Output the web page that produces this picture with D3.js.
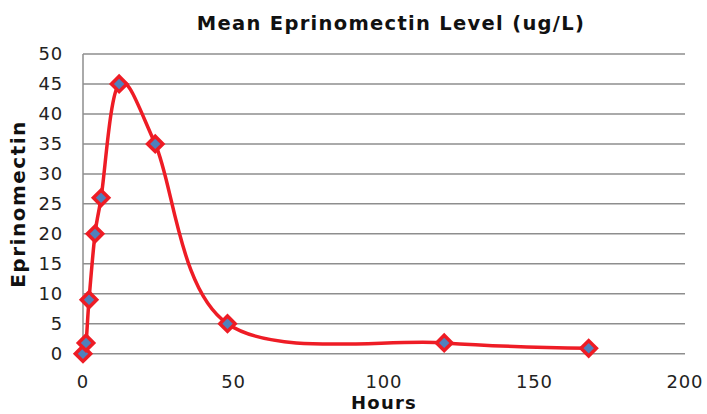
<!DOCTYPE html>
<html><head><meta charset="utf-8">
<script src="https://cdn.jsdelivr.net/npm/d3@7"></script>
<style>body{margin:0;background:#fff}svg{display:block}</style>
</head><body>
<svg id="c" width="707" height="414"></svg>
<script>
const hours = [0, 1, 2, 4, 6, 12, 24, 48, 120, 168];
const levels = [0, 1.8, 9, 20, 26, 45, 35, 5, 1.8, 0.9];
const xTicks = [0, 50, 100, 150, 200];
const yTicks = [0, 5, 10, 15, 20, 25, 30, 35, 40, 45, 50];
const title = "Mean Eprinomectin Level (ug/L)";
const xTitle = "Hours";
const yTitle = "Eprinomectin";

const font = "'DejaVu Sans', sans-serif";
const svg = d3.select("#c");
const x = d3.scaleLinear().domain([0, 200]).range([83, 685]);
const y = d3.scaleLinear().domain([0, 50]).range([353.7, 54]);

// gridlines
svg.append("g").selectAll("line").data(yTicks).join("line")
  .attr("x1", x(0)).attr("x2", x(200))
  .attr("y1", d => y(d)).attr("y2", d => y(d))
  .attr("stroke", "#8e8e8e").attr("stroke-width", 1.5);
// vertical axis line
svg.append("line").attr("x1", x(0)).attr("x2", x(0)).attr("y1", y(50)).attr("y2", y(0))
  .attr("stroke", "#8e8e8e").attr("stroke-width", 1.5);

// y tick labels
svg.append("g").selectAll("text").data(yTicks).join("text")
  .attr("x", 63).attr("y", d => y(d)).attr("dy", "0.36em")
  .attr("text-anchor", "end").attr("font-family", font).attr("font-size", 18).attr("fill", "#222")
  .attr("letter-spacing", 0.8)
  .text(d => d);
// x tick labels
svg.append("g").selectAll("text").data(xTicks).join("text")
  .attr("x", d => x(d)).attr("y", 387.5)
  .attr("text-anchor", "middle").attr("font-family", font).attr("font-size", 18).attr("fill", "#222")
  .attr("letter-spacing", 0.8)
  .text(d => d);

// titles
svg.append("text").attr("x", 391).attr("y", 30).attr("text-anchor", "middle")
  .attr("font-family", font).attr("font-weight", "bold").attr("font-size", 19.5).attr("fill", "#111")
  .attr("letter-spacing", 1.3).text(title);
svg.append("text").attr("x", 384).attr("y", 409).attr("text-anchor", "middle")
  .attr("font-family", font).attr("font-weight", "bold").attr("font-size", 18).attr("fill", "#111")
  .attr("letter-spacing", 1.2).text(xTitle);
svg.append("text").attr("transform", "translate(25,204) rotate(-90)").attr("text-anchor", "middle")
  .attr("font-family", font).attr("font-weight", "bold").attr("font-size", 20).attr("fill", "#111")
  .attr("letter-spacing", 1.5).text(yTitle);

const data = hours.map((h, i) => ({h, v: levels[i]}));
const line = d3.line().x(d => x(d.h)).y(d => y(d.v)).curve(d3.curveCatmullRom.alpha(0));
svg.append("path").datum(data).attr("d", line).attr("fill", "none")
  .attr("stroke", "#ee1c25").attr("stroke-width", 3.5);

const sym = d3.symbol().type(d3.symbolDiamond2).size(150);
svg.append("g").selectAll("path").data(data).join("path")
  .attr("transform", d => `translate(${x(d.h)},${y(d.v)})`)
  .attr("d", sym).attr("fill", "#4f81bd").attr("stroke", "#ee1c25").attr("stroke-width", 3.5)
  .attr("stroke-linejoin", "miter");
</script>
</body></html>
